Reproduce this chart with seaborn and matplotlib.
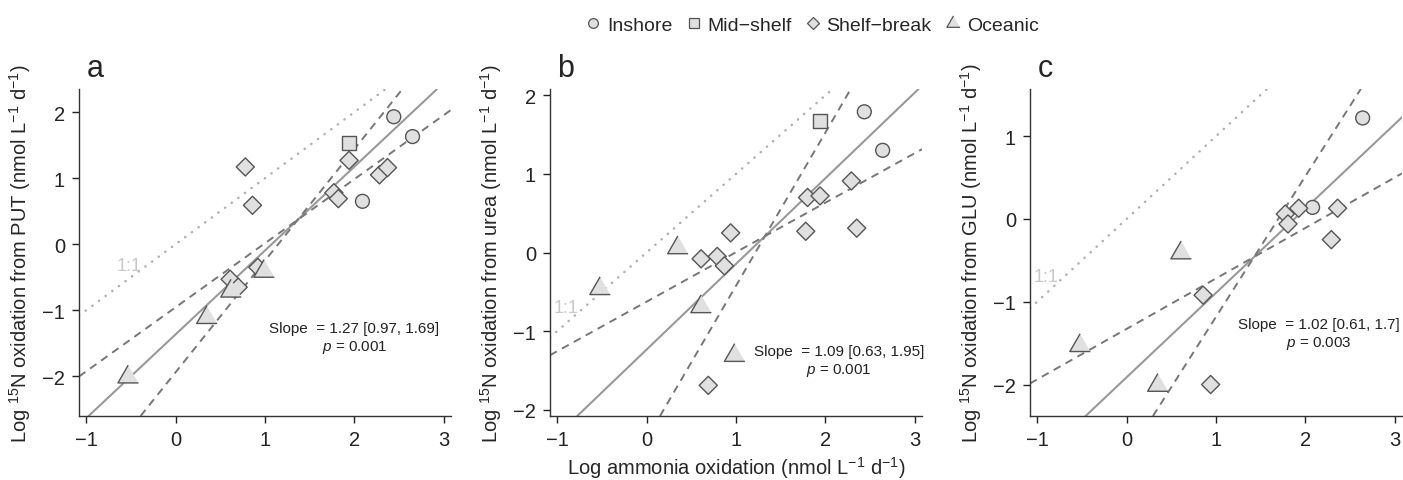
import matplotlib
matplotlib.use("Agg")
import matplotlib.pyplot as plt
from matplotlib.lines import Line2D
import seaborn as sns
import pandas as pd

# Data
regions = ["Inshore", "Mid−shelf", "Shelf−break", "Oceanic"]

# panel a: PUT vs ammonia oxidation
put_region = ["Inshore"] * 3 + ["Mid−shelf"] + ["Shelf−break"] * 10 + ["Oceanic"] * 4
put_x = [2.44, 2.65, 2.09, 1.94, 0.78, 0.86, 1.94, 1.77, 1.82, 2.28, 2.37, 0.61, 0.70, 0.92,
         -0.53, 0.35, 0.62, 0.99]
put_y = [1.93, 1.63, 0.65, 1.53, 1.17, 0.59, 1.27, 0.78, 0.69, 1.05, 1.16, -0.53, -0.65, -0.35,
         -2.01, -1.11, -0.71, -0.41]

# panel b: urea vs ammonia oxidation
urea_region = ["Inshore"] * 2 + ["Mid−shelf"] + ["Shelf−break"] * 10 + ["Oceanic"] * 4
urea_x = [2.435, 2.64, 1.94, 1.80, 1.94, 2.29, 2.35, 1.78, 0.94, 0.61, 0.79, 0.87, 0.69,
          -0.52, 0.35, 0.61, 0.985]
urea_y = [1.79, 1.30, 1.67, 0.70, 0.72, 0.91, 0.31, 0.27, 0.25, -0.08, -0.05, -0.17, -1.69,
          -0.46, 0.06, -0.69, -1.31]

# panel c: GLU vs ammonia oxidation
glu_region = ["Inshore"] * 2 + ["Shelf−break"] * 7 + ["Oceanic"] * 3
glu_x = [2.64, 2.08, 1.775, 1.805, 1.925, 2.36, 2.29, 0.856, 0.94, 0.61, -0.52, 0.35]
glu_y = [1.22, 0.14, 0.06, -0.06, 0.13, 0.13, -0.25, -0.92, -2.0, -0.41, -1.53, -2.01]

# SMA slope [lower, upper] and p value
slopes = [(1.27, 0.97, 1.69), (1.09, 0.63, 1.95), (1.02, 0.61, 1.7)]
pvals = ["0.001", "0.001", "0.003"]
substrates = ["PUT", "urea", "GLU"]
panel_tags = ["a", "b", "c"]

sns.set_style("ticks")
plt.rcParams["font.family"] = ["Liberation Sans", "DejaVu Sans"]
plt.rcParams["mathtext.fontset"] = "custom"
plt.rcParams["mathtext.rm"] = "Liberation Sans"
plt.rcParams["mathtext.it"] = "Liberation Sans:italic"

tri = [(0, 1), (-0.866, -0.5), (0.866, -0.5)]
markers = {"Inshore": "o", "Mid−shelf": "s", "Shelf−break": "D", "Oceanic": tri}
sizes = {"Inshore": 100, "Mid−shelf": 105, "Shelf−break": 85, "Oceanic": 290}
fill = "#e0e0e0"
edge = "#555555"

fig = plt.figure(figsize=(14.03, 4.81), dpi=100)
lefts = [79, 550, 1030]
ylims = [(-2.6, 2.35), (-2.08, 2.08), (-2.38, 1.57)]
yticks = [[-2, -1, 0, 1, 2], [-2, -1, 0, 1, 2], [-2, -1, 0, 1]]
one_pos = [(-0.515, -0.325), (-0.90, -0.70), (-0.905, -0.70)]
txt_pos = [(2.0, -1.42), (2.15, -1.385), (2.15, -1.385)]

panels = [(put_region, put_x, put_y), (urea_region, urea_x, urea_y), (glu_region, glu_x, glu_y)]

for i, (reg, xs, ys) in enumerate(panels):
    ax = fig.add_axes([lefts[i] / 1403, 64 / 481, 372 / 1403, 327 / 481])
    df = pd.DataFrame({"x": xs, "y": ys, "Region": reg})
    ax.set_xlim(-1.08, 3.08)
    ax.set_ylim(*ylims[i])

    # 1:1 line
    ax.axline((0, 0), slope=1, color="#b0b0b0", lw=1.8, ls=(0, (0.1, 3.2)),
              dash_capstyle="round", zorder=1)
    ax.text(*one_pos[i], "1:1", color="#c8c8c8", fontsize=13, ha="center", va="center", zorder=1)

    # SMA fit through centroid, with CI slopes
    xm, ym = df["x"].mean(), df["y"].mean()
    s, lo, hi = slopes[i]
    ax.axline((xm, ym), slope=s, color="#999999", lw=1.5, zorder=2)
    for sl in (lo, hi):
        ax.axline((xm, ym), slope=sl, color="#777777", lw=1.4, ls=(0, (4, 3)), zorder=2)

    sns.scatterplot(data=df, x="x", y="y", style="Region", size="Region",
                    markers=markers, sizes=sizes, style_order=[r for r in regions if r in reg],
                    size_order=[r for r in regions if r in reg],
                    color=fill, edgecolor=edge, linewidth=1.0, legend=False, ax=ax, zorder=3)

    ax.text(*txt_pos[i], f"Slope  = {s} [{lo}, {hi}]\n$p$ = {pvals[i]}", fontsize=11,
            ha="center", va="center", multialignment="center", linespacing=1.25, color="#222222")

    ax.set_xticks([-1, 0, 1, 2, 3])
    ax.set_yticks(yticks[i])
    ax.tick_params(labelsize=14.5, length=5, width=1, pad=5, colors="#222222")
    for side in ("left", "bottom"):
        ax.spines[side].set_color("#333333")
        ax.spines[side].set_linewidth(1.0)
    sns.despine(ax=ax)
    ax.set_ylabel(r"Log $^{15}$N oxidation from " + substrates[i] + r" (nmol L$^{-1}$ d$^{-1}$)",
                  fontsize=14.5, labelpad=7)
    if i == 1:
        ax.set_xlabel(r"Log ammonia oxidation (nmol L$^{-1}$ d$^{-1}$)", fontsize=14.5, labelpad=4)
    else:
        ax.set_xlabel("")
    ax.text(0.02, 1.04, panel_tags[i], transform=ax.transAxes, fontsize=22,
            ha="left", va="baseline")

handles = [Line2D([], [], ls="", marker=markers[r], markersize=ms, markerfacecolor=fill,
                  markeredgecolor=edge, markeredgewidth=0.9)
           for r, ms in zip(regions, [7, 7, 6, 11])]
fig.legend(handles, regions, loc="upper center", bbox_to_anchor=(0.578, 1.0), ncol=4,
           frameon=False, fontsize=14, handletextpad=0.2, columnspacing=0.6, handlelength=1.0)

fig.savefig("out.png", dpi=100)
